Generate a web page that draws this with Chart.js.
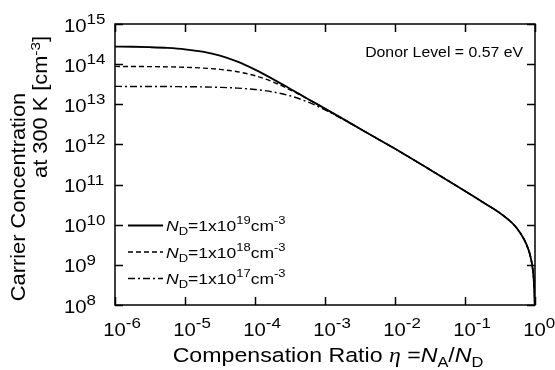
<!DOCTYPE html>
<html>
<head>
<meta charset="utf-8">
<script src="https://cdn.jsdelivr.net/npm/chart.js@4.4.1/dist/chart.umd.min.js"></script>
<style>
  html, body { margin: 0; padding: 0; background: #fff; }
</style>
</head>
<body>
<canvas id="chart" width="555" height="370"></canvas>
<script>
// compensation ratio eta = NA/ND
const eta = [1e-6, 1.78e-6, 3.16e-6, 5.62e-6, 1e-5, 1.78e-5, 3.16e-5, 5.62e-5,
             1e-4, 1.78e-4, 3.16e-4, 5.62e-4, 1e-3, 1.78e-3, 3.16e-3, 5.62e-3,
             1e-2, 3.16e-2, 0.1, 0.2, 0.3, 0.45, 0.55, 0.7, 0.8, 0.85, 0.9, 0.95, 0.98, 0.99, 0.995];

// electron concentration at 300 K [cm^-3] for each donor density
const n19 = [2.74e14, 2.71e14, 2.64e14, 2.53e14, 2.34e14, 2.04e14, 1.63e14, 1.15e14,
             7.3e13, 4.3e13, 2.45e13, 1.38e13, 7.8e12, 4.39e12, 2.46e12, 1.38e12,
             7.8e11, 2.35e11, 6.9e10, 3.24e10, 2.08e10, 1.19e10, 8.2e9, 4.29e9, 2.5e9, 1.77e9, 1.11e9, 5.26e8, 2.04e8, 1.01e8, 5e7];
const n18 = [8.78e13, 8.74e13, 8.68e13, 8.56e13, 8.35e13, 7.99e13, 7.39e13, 6.46e13,
             5.15e13, 3.64e13, 2.3e13, 1.36e13, 7.74e12, 4.38e12, 2.46e12, 1.38e12,
             7.8e11, 2.35e11, 6.9e10, 3.24e10, 2.08e10, 1.19e10, 8.2e9, 4.29e9, 2.5e9, 1.77e9, 1.11e9, 5.26e8, 2.04e8, 1.01e8, 5e7];
const n17 = [2.79e13, 2.78e13, 2.78e13, 2.77e13, 2.74e13, 2.71e13, 2.64e13, 2.53e13,
             2.34e13, 2.04e13, 1.63e13, 1.15e13, 7.27e12, 4.28e12, 2.45e12, 1.38e12,
             7.79e11, 2.35e11, 6.9e10, 3.24e10, 2.08e10, 1.19e10, 8.2e9, 4.29e9, 2.5e9, 1.77e9, 1.11e9, 5.26e8, 2.04e8, 1.01e8, 5e7];

const donorExp = ['19', '18', '17'];
const xDecades = [-6, -5, -4, -3, -2, -1, 0];
const yDecades = [8, 9, 10, 11, 12, 13, 14, 15];

const SANS = '"Liberation Sans", Arial, sans-serif';
const SERIF = '"Liberation Serif", "DejaVu Serif", serif';
const STRETCH = 1.13;   // glyphs are a bit wider than Liberation Sans

const styles = [
    { width: 1.8, dash: [] },
    { width: 1.4, dash: [5, 3] },
    { width: 1.4, dash: [7, 3, 2, 3] }
];

function fontOf(r) {
    return (r.italic ? 'italic ' : '') + r.size + 'px ' + (r.family || SANS);
}

function runsWidth(ctx, runs) {
    let w = 0;
    runs.forEach(r => {
        ctx.font = fontOf(r);
        w += ctx.measureText(r.t).width * STRETCH;
    });
    return w;
}

// draws a line of mixed text (sub/superscripts, italics)
function drawRuns(ctx, runs, x, y, align, angle) {
    ctx.save();
    ctx.translate(x, y);
    if (angle) ctx.rotate(angle);
    const w = runsWidth(ctx, runs);
    let cx = align === 'center' ? -w / 2 : (align === 'right' ? -w : 0);
    ctx.scale(STRETCH, 1);
    cx /= STRETCH;
    ctx.textAlign = 'left';
    ctx.textBaseline = 'alphabetic';
    ctx.fillStyle = '#000';
    runs.forEach(r => {
        ctx.font = fontOf(r);
        ctx.fillText(r.t, cx, r.dy || 0);
        cx += ctx.measureText(r.t).width;
    });
    ctx.restore();
}

const framePlugin = {
    id: 'frame',
    afterDatasetsDraw(chart) {
        const ctx = chart.ctx;
        const a = chart.chartArea;
        const xs = chart.scales.x;
        const ys = chart.scales.y;
        const tick = 8;

        ctx.save();
        ctx.strokeStyle = '#000';
        ctx.lineWidth = 1.5;
        ctx.setLineDash([]);
        ctx.strokeRect(a.left, a.top, a.right - a.left, a.bottom - a.top);

        ctx.beginPath();
        xDecades.forEach(d => {
            const px = Math.round(xs.getPixelForValue(Math.pow(10, d))) + 0.5;
            ctx.moveTo(px, a.bottom); ctx.lineTo(px, a.bottom - tick);
            ctx.moveTo(px, a.top); ctx.lineTo(px, a.top + tick);
        });
        yDecades.forEach(d => {
            const py = Math.round(ys.getPixelForValue(Math.pow(10, d))) + 0.5;
            ctx.moveTo(a.left, py); ctx.lineTo(a.left + tick, py);
            ctx.moveTo(a.right, py); ctx.lineTo(a.right - tick, py);
        });
        ctx.stroke();

        // tick labels
        xDecades.forEach(d => {
            const px = xs.getPixelForValue(Math.pow(10, d));
            ctx.font = '18px ' + SANS;
            const bw = ctx.measureText('10').width * STRETCH;
            drawRuns(ctx, [
                { t: '10', size: 18 },
                { t: String(d), size: 15, dy: -7.5 }
            ], px - 0.5 - bw / 2, 335.5, 'left');
        });
        yDecades.forEach(d => {
            const py = ys.getPixelForValue(Math.pow(10, d));
            drawRuns(ctx, [
                { t: '10', size: 18 },
                { t: String(d), size: 15, dy: -7.5 }
            ], 64, py + 7.5, 'left');
        });

        // axis titles
        drawRuns(ctx, [
            { t: 'Compensation Ratio ', size: 20.5 },
            { t: '\u03B7', size: 21, italic: true, family: SERIF },
            { t: ' =', size: 20.5 },
            { t: 'N', size: 20.5, italic: true },
            { t: 'A', size: 14.5, dy: 4.5 },
            { t: '/', size: 20.5 },
            { t: 'N', size: 20.5, italic: true },
            { t: 'D', size: 14.5, dy: 4.5 }
        ], 328, 362, 'center');
        drawRuns(ctx, [{ t: 'Carrier Concentration', size: 19.3 }],
            25, 197, 'center', -Math.PI / 2);
        drawRuns(ctx, [
            { t: 'at 300 K [cm', size: 19.3 },
            { t: '-3', size: 13.5, dy: -7.5 },
            { t: ']', size: 19.3 }
        ], 47, 107, 'center', -Math.PI / 2);

        drawRuns(ctx, [{ t: 'Donor Level = 0.57 eV', size: 14 }], 523, 57, 'right');

        // legend
        const rows = [225.5, 252, 278.5];
        rows.forEach((ry, i) => {
            ctx.lineWidth = styles[i].width;
            ctx.setLineDash(styles[i].dash);
            ctx.beginPath();
            ctx.moveTo(128, ry);
            ctx.lineTo(163, ry);
            ctx.stroke();
            ctx.setLineDash([]);
            drawRuns(ctx, [
                { t: 'N', size: 15.5, italic: true },
                { t: 'D', size: 11.5, dy: 4 },
                { t: '=1x10', size: 15.5 },
                { t: donorExp[i], size: 11.5, dy: -7 },
                { t: 'cm', size: 15.5 },
                { t: '-3', size: 11.5, dy: -7 }
            ], 166, ry + 5.5, 'left');
        });
        ctx.restore();
    }
};

const series = [n19, n18, n17];
const datasets = series.map((vals, i) => ({
    label: 'ND=1x10^' + donorExp[i],
    data: eta.map((e, k) => ({ x: e, y: vals[k] })),
    showLine: true,
    borderColor: '#000',
    borderWidth: styles[i].width,
    borderDash: styles[i].dash,
    pointRadius: 0,
    cubicInterpolationMode: 'monotone'
}));

new Chart(document.getElementById('chart').getContext('2d'), {
    type: 'scatter',
    data: { datasets: datasets },
    options: {
        responsive: false,
        animation: false,
        layout: { padding: { left: 115, right: 20, top: 24, bottom: 65 } },
        plugins: { legend: { display: false }, tooltip: { enabled: false } },
        scales: {
            x: { type: 'logarithmic', min: 1e-6, max: 1, display: false },
            y: { type: 'logarithmic', min: 1e8, max: 1e15, display: false }
        }
    },
    plugins: [framePlugin]
});
</script>
</body>
</html>
